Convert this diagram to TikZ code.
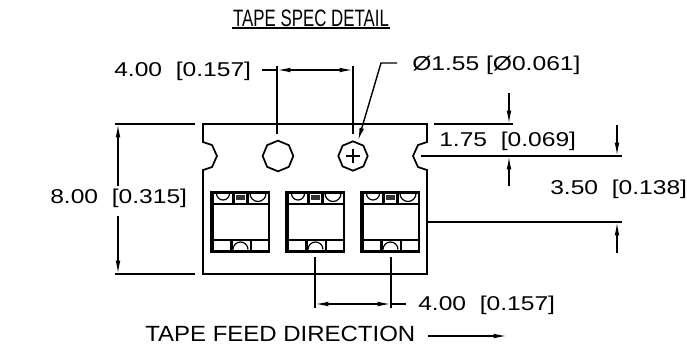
\documentclass[tikz,border=0pt]{standalone}
\usepackage{fontspec}
\setmainfont[FakeStretch=1.23]{Liberation Sans}
\newfontfamily\titlefont[FakeStretch=0.71]{Liberation Sans}
\newfontfamily\feedfont[FakeStretch=1.09]{Liberation Sans}
\usetikzlibrary{arrows.meta}
\usetikzlibrary{shapes.geometric}
\tikzset{>={Latex[length=10pt,width=3.5pt]}}
\definecolor{mygray1}{RGB}{50, 50, 50}

\newcommand{\pocket}[1]{
\begin{scope}[shift={(#1, 191)}]
\fill (0,0) rectangle (60,62);
\fill[white] (3.5,2.5) rectangle (22,12);
\fill[white] (24.5,2.5) rectangle (36,12);
\fill[white] (38.5,2.5) rectangle (57.5,12);
\fill[white] (3.5,13.5) rectangle (57.5,48);
\fill[white] (4,50) rectangle (20,58.5);
\fill[white] (22.5,50) rectangle (40,58.5);
\fill[white] (42,50) rectangle (57.5,58.5);
\fill[mygray1] (25.5,4) rectangle (35,8.5);
\draw[pline] (6.5,2.5) arc (180:0:6.5);
\draw[pline] (40,2.5) arc (180:0:8);
\draw[pline] (23,58.5) arc (180:360:7.5);
\end{scope}
}

\begin{document}
\begin{tikzpicture}[
    x = 0.75pt,
    y = -0.75pt,
    d0/.style = {line width = 1.3pt},
    d1/.style = {line width = 1.05pt},
    pline/.style = {line width = 0.9pt},
    dimtext/.style = {font = \fontsize{15pt}{16pt}\selectfont, inner sep = 0pt},
    hole/.style = {draw, d0, regular polygon, regular polygon sides = 8, shape border rotate = 22.5, inner sep = 0pt, minimum size = 23pt},
]
\useasboundingbox (0,0) rectangle (687,344);

\node[font = \titlefont\fontsize{17.8pt}{18pt}\selectfont, inner sep = 0pt] (title) at (311, 18) {TAPE SPEC DETAIL};
\draw[d1] (232, 28) -- (390, 28);

% tape outline with the two notches
\draw[d0] (203,124) -- (203,142) -- (212,145) -- (217,156) -- (212,167) -- (203,170) -- (203,274)
  -- (427,274) -- (427,170) -- (418,167) -- (413,156) -- (418,145) -- (427,142) -- (427,124) -- cycle;

\node[hole] (holeA) at (278, 156) {};
\node[hole, minimum size = 22pt] (holeB) at (353, 156) {};
\draw[d1] (346, 156) -- (360, 156);
\draw[d1] (353, 149) -- (353, 163);

\foreach \px in {210, 285, 360} {
  \pocket{\px}
}

% top pitch
\node[dimtext, anchor = west] (pitchTop) at (114, 71) {4.00 \ [0.157]};
\draw[d1] (277, 66) -- (277, 134);
\draw[d1] (353, 66) -- (353, 134);
\draw[d1] (262, 70) -- (277, 70);
\draw[d1, <->] (277, 70) -- (353, 70);

% hole diameter
\node[dimtext, anchor = west] (holeDia) at (412, 65) {Ø1.55 [Ø0.061]};
\draw[d1, ->] (397, 63) -- (381, 63) -- (358, 141);

% sprocket offset
\node[dimtext, anchor = west] (edgeDim) at (439, 141) {1.75 \ [0.069]};
\draw[d1] (434, 124) -- (513, 124);
\draw[d1] (421, 156) -- (622, 156);
\draw[d1, ->] (509, 93) -- (509, 124);
\draw[d1, ->] (509, 186) -- (509, 156);

% pocket offset
\node[dimtext, anchor = west] (pocketDim) at (550, 189) {3.50 \ [0.138]};
\draw[d1] (427, 222) -- (622, 222);
\draw[d1, ->] (617, 125) -- (617, 156);
\draw[d1, ->] (617, 253) -- (617, 222);

% tape width
\node[dimtext, anchor = west] (widthDim) at (50, 198) {8.00 \ [0.315]};
\draw[d1] (115, 124) -- (195, 124);
\draw[d1] (115, 274) -- (195, 274);
\draw[d1, ->] (118, 186) -- (118, 124);
\draw[d1, ->] (118, 216) -- (118, 274);

% bottom pitch
\node[dimtext, anchor = west] (pitchBot) at (418, 305) {4.00 \ [0.157]};
\draw[d1] (315, 257) -- (315, 308);
\draw[d1] (391, 257) -- (391, 308);
\draw[d1, <->] (315, 304) -- (391, 304);
\draw[d1] (391, 304) -- (406, 304);

\node[font = \feedfont\fontsize{16.5pt}{17pt}\selectfont, inner sep = 0pt, anchor = west] (feed) at (145, 334) {TAPE FEED DIRECTION};
\draw[d1, ->] (428, 336) -- (507, 336);
\end{tikzpicture}
\end{document}
